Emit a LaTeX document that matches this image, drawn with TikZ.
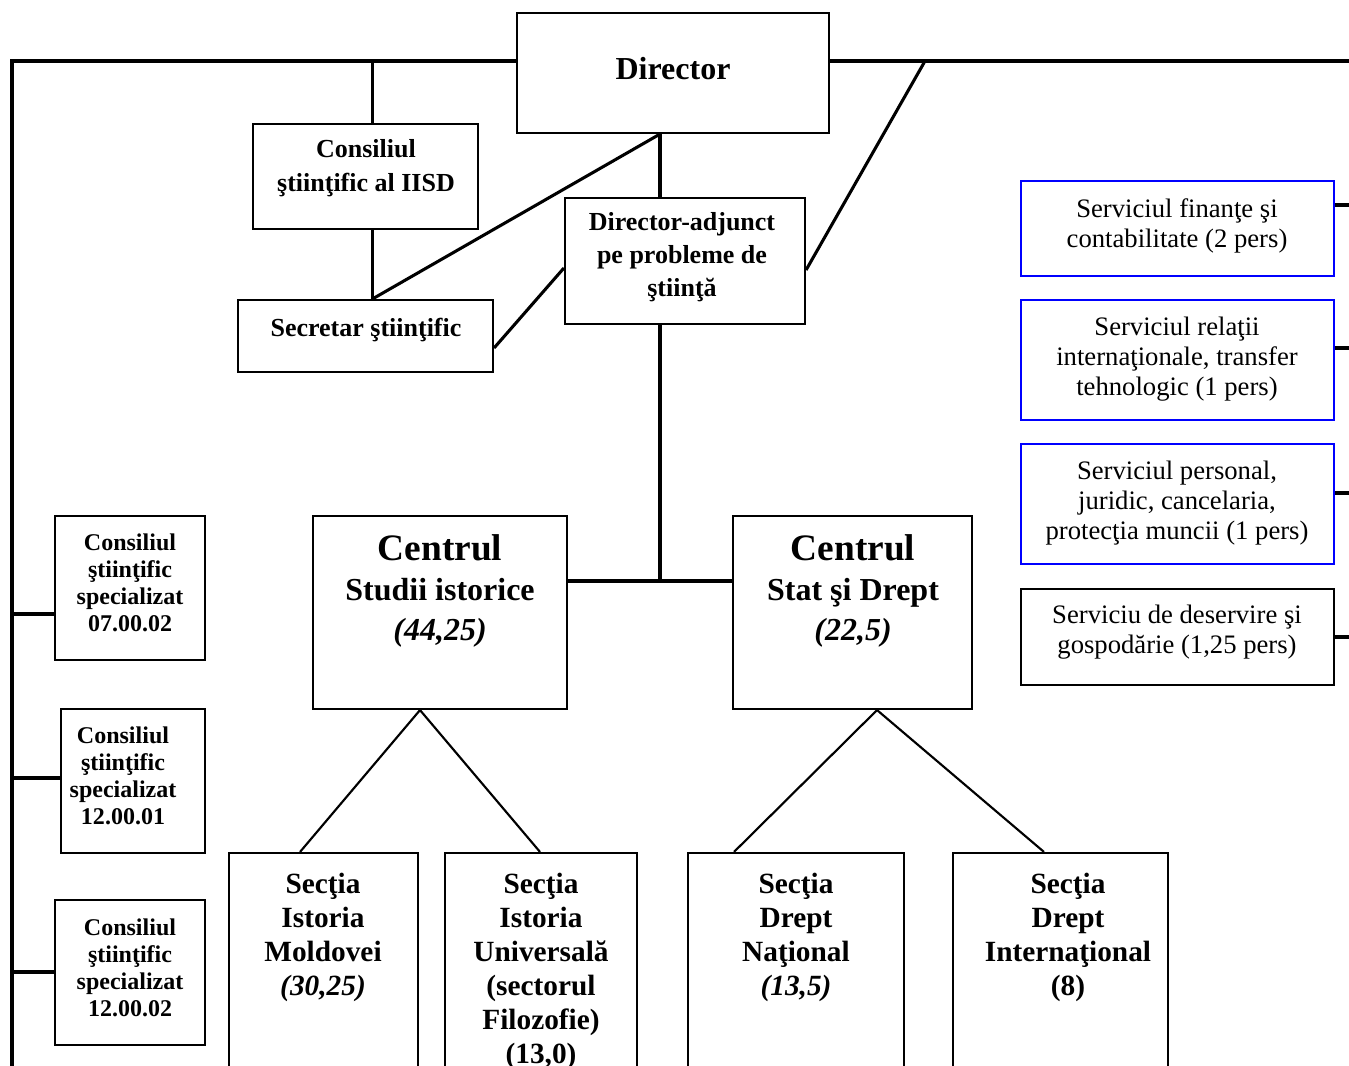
\documentclass[tikz,border=0pt]{standalone}
\usepackage{fontspec}
\setmainfont{Liberation Serif}
\usetikzlibrary{fit,calc}
\definecolor{svblue}{RGB}{0,0,255}
\begin{document}
\begin{tikzpicture}[x=0.75pt,y=-0.75pt,
  box/.style={draw, line width=1.6pt, inner sep=0pt},
  bbox/.style={box, draw=svblue},
  conn/.style={line width=2.3pt},
  thin/.style={line width=1.6pt},
  tBig/.style={inner sep=0pt, font=\fontsize{24}{28}\selectfont\bfseries},
  tMid/.style={inner sep=0pt, align=center, font=\fontsize{19.5}{25}\selectfont\bfseries},
  tCen/.style={inner sep=0pt, align=center, font=\fontsize{24}{30}\selectfont\bfseries},
  tSec/.style={inner sep=0pt, align=center, anchor=north, font=\fontsize{22}{25.5}\selectfont\bfseries},
  tCs/.style={inner sep=0pt, align=center, font=\fontsize{18}{20.3}\selectfont\bfseries},
  tSv/.style={inner sep=0pt, align=center, font=\fontsize{20}{22.7}\selectfont}
]
\useasboundingbox (0,0) rectangle (1349,1066);
\clip (0,0) rectangle (1349,1066);

% boxes
\node[box, fit={(517,13) (829,133)}] (dir) {};
\node[tBig] (dirt) at (673,69) {Director};

\node[box, fit={(253,124) (478,229)}] (cs) {};
\node[tMid] (cst) at (366,168) {Consiliul\\ştiinţific al IISD};

\node[box, fit={(238,300) (493,372)}] (sec) {};
\node[tMid] (sect) at (366,330) {Secretar ştiinţific};

\node[box, fit={(565,198) (805,324)}] (da) {};
\node[tMid] (dat) at (682,257) {Director-adjunct\\pe probleme de\\ştiinţă};

\node[box, fit={(313,516) (567,709)}] (c1) {};
\node[tCen] (c1t) at (440,591) {{\fontsize{28}{30}\selectfont Centrul}\\Studii istorice\\\textit{(44,25)}};

\node[box, fit={(733,516) (972,709)}] (c2) {};
\node[tCen] (c2t) at (853,591) {{\fontsize{28}{30}\selectfont Centrul}\\Stat şi Drept\\\textit{(22,5)}};

\node[box, fit={(229,853) (418,1090)}] (s1) {};
\node[tSec] (s1t) at (323,873) {Secţia\\Istoria\\Moldovei\\\textit{(30,25)}};
\node[box, fit={(445,853) (637,1090)}] (s2) {};
\node[tSec] (s2t) at (541,873) {Secţia\\Istoria\\Universală\\(sectorul\\Filozofie)\\(13,0)};
\node[box, fit={(688,853) (904,1090)}] (s3) {};
\node[tSec] (s3t) at (796,873) {Secţia\\Drept\\Naţional\\\textit{(13,5)}};
\node[box, fit={(953,853) (1168,1090)}] (s4) {};
\node[tSec] (s4t) at (1068,873) {Secţia\\Drept\\Internaţional\\(8)};

\node[box, fit={(55,516) (205,660)}] (k1) {};
\node[tCs] (k1t) at (130,583) {Consiliul\\ştiinţific\\specializat\\07.00.02};
\node[box, fit={(61,709) (205,853)}] (k2) {};
\node[tCs] (k2t) at (123,776) {Consiliul\\ştiinţific\\specializat\\12.00.01};
\node[box, fit={(55,900) (205,1045)}] (k3) {};
\node[tCs] (k3t) at (130,968) {Consiliul\\ştiinţific\\specializat\\12.00.02};

\node[bbox, fit={(1021,181) (1334,276)}] (sv1) {};
\node[tSv] (sv1t) at (1177,226) {Serviciul finanţe şi\\contabilitate (2 pers)};
\node[bbox, fit={(1021,300) (1334,420)}] (sv2) {};
\node[tSv] (sv2t) at (1177,359) {Serviciul relaţii\\internaţionale, transfer\\tehnologic (1 pers)};
\node[bbox, fit={(1021,444) (1334,564)}] (sv3) {};
\node[tSv] (sv3t) at (1177,503) {Serviciul personal,\\juridic, cancelaria,\\protecţia muncii (1 pers)};
\node[box, fit={(1021,589) (1334,685)}] (sv4) {};
\node[tSv] (sv4t) at (1177,632) {Serviciu de deservire şi\\gospodărie (1,25 pers)};

% coordinates
\coordinate (TL) at (12,61);
\coordinate (TR) at (1349,61);
\coordinate (BL) at (12,1066);
\coordinate (J) at (925,61);
\coordinate (H) at (660,581);
\coordinate (K1) at (12,614);
\coordinate (K2) at (12,778);
\coordinate (K3) at (12,972);
\coordinate (R1) at (1349,205);
\coordinate (R2) at (1349,348);
\coordinate (R3) at (1349,493);
\coordinate (R4) at (1349,637);
\path ([xshift=5.25pt]cs.north) coordinate (csn);

% connectors
\draw[conn] (dir.west |- TL) -- (TL) -- (BL);
\draw[conn] (dir.east |- TL) -- (TR);
\draw[conn] (csn) -- (csn |- TL);
\draw[conn] ([xshift=5.25pt]cs.south) -- ([xshift=5.25pt]sec.north);
\draw[conn] ([xshift=-9.75pt]dir.south) -- ([xshift=5.25pt]sec.north);
\draw[conn] ([xshift=-9.75pt]dir.south) -- ([xshift=-18.75pt]da.north);
\draw[conn] ([yshift=-9pt]sec.east) -- ([yshift=-5.25pt]da.west);
\draw[conn] ([yshift=-6.75pt]da.east) -- (J);
\draw[conn] ([xshift=-18.75pt]da.south) -- (H);
\draw[conn] (c1.east |- H) -- (c2.west |- H);
\draw[thin] ([xshift=-17.6pt]s1.north) -- ([xshift=-15pt]c1.south) -- ([xshift=-0.75pt]s2.north);
\draw[thin] ([xshift=-46.5pt]s3.north) -- ([xshift=18.4pt]c2.south) -- ([xshift=-12.4pt]s4.north);
\draw[conn] (K1) -- (k1.west |- K1);
\draw[conn] (K2) -- (k2.west |- K2);
\draw[conn] (K3) -- (k3.west |- K3);
\draw[conn] (sv1.east |- R1) -- (R1);
\draw[conn] (sv2.east |- R2) -- (R2);
\draw[conn] (sv3.east |- R3) -- (R3);
\draw[conn] (sv4.east |- R4) -- (R4);
\end{tikzpicture}
\end{document}
